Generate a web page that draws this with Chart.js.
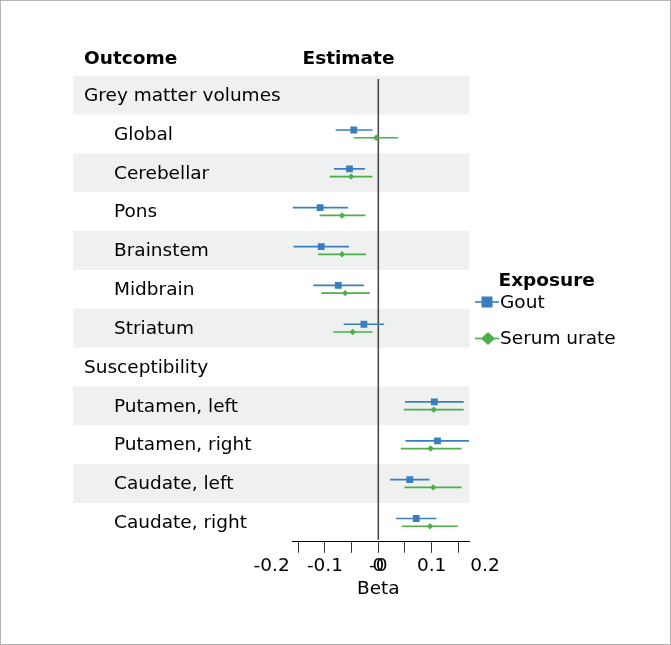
<!DOCTYPE html>
<html>
<head>
<meta charset="utf-8">
<script src="https://cdn.jsdelivr.net/npm/chart.js@4/dist/chart.umd.min.js"></script>
<style>
  html, body { margin: 0; padding: 0; background: #ffffff; }
  canvas { display: block; }
</style>
</head>
<body>
<canvas id="c" width="671" height="645"></canvas>
<script>
// ---- Data ----
const categories = ["Grey matter volumes", "Global", "Cerebellar", "Pons", "Brainstem", "Midbrain", "Striatum",
                    "Susceptibility", "Putamen, left", "Putamen, right", "Caudate, left", "Caudate, right"];
const isHeader = [true, false, false, false, false, false, false, true, false, false, false, false];

const goutEst = [null, -0.046, -0.054, -0.109, -0.107, -0.075, -0.027, null, 0.105, 0.111, 0.059, 0.071];
const goutLo  = [null, -0.080, -0.083, -0.161, -0.159, -0.122, -0.065, null, 0.050, 0.051, 0.022, 0.033];
const goutHi  = [null, -0.011, -0.025, -0.057, -0.055, -0.027,  0.011, null, 0.160, 0.170, 0.096, 0.109];

const urateEst = [null, -0.004, -0.051, -0.068, -0.068, -0.062, -0.048, null, 0.104, 0.098, 0.103, 0.097];
const urateLo  = [null, -0.046, -0.091, -0.110, -0.113, -0.107, -0.085, null, 0.048, 0.042, 0.049, 0.044];
const urateHi  = [null,  0.037, -0.011, -0.024, -0.023, -0.016, -0.011, null, 0.160, 0.156, 0.156, 0.149];

const xTickMarks = [-0.15, -0.1, -0.05, 0, 0.05, 0.1, 0.15];
const xTickLabelValues = [-0.2, -0.1, 0, 0, 0.1, 0.2];
const xTickLabelTexts = ["-0.2", "-0.1", "-0", "0", "0.1", "0.2"];
const xAxisTitle = "Beta";
const seriesNames = ["Gout", "Serum urate"];
const legendTitle = "Exposure";
const headerLabels = ["Outcome", "Estimate"];

// ---- Styles ----
const BLUE = "#3a7ebf";
const GREEN = "#4daf4a";
const FONT = "DejaVu Sans";
const FS = 18.5;
const OFFSET = 0.1;

function ciData(lo, hi, off) {
  const out = [];
  for (let i = 0; i < categories.length; i++) {
    if (lo[i] !== null) out.push({ x: [lo[i], hi[i]], y: i + off });
  }
  return out;
}
function ptData(est, off) {
  const out = [];
  for (let i = 0; i < categories.length; i++) {
    if (est[i] !== null) out.push({ x: est[i], y: i + off });
  }
  return out;
}

const decor = {
  id: 'decor',
  beforeDatasetsDraw(chart) {
    const { ctx, chartArea, scales: { y } } = chart;
    ctx.save();
    ctx.fillStyle = "#eef1ef";
    for (let i = 0; i < categories.length; i += 2) {
      const a = y.getPixelForValue(i - 0.5), b = y.getPixelForValue(i + 0.5);
      const top = Math.min(a, b), h = Math.abs(b - a);
      ctx.fillRect(73, top, chartArea.right - 73, h);
    }
    ctx.restore();
  },
  afterDraw(chart) {
    const { ctx, scales: { x, y } } = chart;
    ctx.save();
    ctx.fillStyle = "#000";
    ctx.textBaseline = "middle";
    // row labels
    ctx.font = `${FS}px "${FONT}"`;
    ctx.textAlign = "left";
    categories.forEach((c, i) => {
      ctx.fillText(c, isHeader[i] ? 84 : 114, y.getPixelForValue(i) + 1);
    });
    // column headers
    ctx.font = `bold ${FS}px "${FONT}"`;
    ctx.fillText(headerLabels[0], 84, 59);
    ctx.fillText(headerLabels[1], 302.5, 59);
    // x tick labels
    ctx.font = `${FS}px "${FONT}"`;
    ctx.textAlign = "center";
    xTickLabelValues.forEach((v, i) => {
      ctx.fillText(xTickLabelTexts[i], x.getPixelForValue(v), 566);
    });
    ctx.fillText(xAxisTitle, x.getPixelForValue(0), 589);
    // legend
    ctx.textAlign = "left";
    ctx.font = `bold ${FS}px "${FONT}"`;
    ctx.fillText(legendTitle, 498.5, 281);
    ctx.font = `${FS}px "${FONT}"`;
    ctx.fillText(seriesNames[0], 500, 303);
    ctx.fillText(seriesNames[1], 500, 339);
    // legend keys
    ctx.lineWidth = 1.6;
    ctx.strokeStyle = BLUE;
    ctx.beginPath(); ctx.moveTo(475, 302); ctx.lineTo(499, 302); ctx.stroke();
    ctx.fillStyle = BLUE;
    ctx.fillRect(481.5, 296.5, 11, 11);
    ctx.strokeStyle = GREEN;
    ctx.beginPath(); ctx.moveTo(475, 338.5); ctx.lineTo(499, 338.5); ctx.stroke();
    ctx.fillStyle = GREEN;
    ctx.beginPath();
    ctx.moveTo(481, 338.5); ctx.lineTo(488, 332); ctx.lineTo(495, 338.5); ctx.lineTo(488, 345);
    ctx.closePath(); ctx.fill();
    // frame
    ctx.strokeStyle = "#b4b4b4";
    ctx.lineWidth = 1;
    ctx.strokeRect(0.5, 0.5, 670, 644);
    ctx.restore();
  }
};

Chart.defaults.font.family = FONT;
Chart.defaults.font.size = FS;
Chart.defaults.color = "#000";

new Chart(document.getElementById("c"), {
  type: "scatter",
  data: {
    datasets: [
      { type: "scatter", label: seriesNames[0], data: ptData(goutEst, -OFFSET), pointStyle: "rect",
        pointRadius: 4.8, pointBackgroundColor: BLUE, pointBorderWidth: 0, order: 1 },
      { type: "scatter", label: seriesNames[1], data: ptData(urateEst, OFFSET), pointStyle: "rectRot",
        pointRadius: 3.2, pointBackgroundColor: GREEN, pointBorderWidth: 0, order: 1 },
      { type: "bar", indexAxis: "y", grouped: false, label: seriesNames[0] + " CI", data: ciData(goutLo, goutHi, -OFFSET),
        backgroundColor: BLUE, borderWidth: 0, maxBarThickness: 1.7, order: 5 },
      { type: "bar", indexAxis: "y", grouped: false, label: seriesNames[1] + " CI", data: ciData(urateLo, urateHi, OFFSET),
        backgroundColor: GREEN, borderWidth: 0, maxBarThickness: 1.7, order: 5 },
      { type: "line", label: "zero", data: [{ x: 0, y: -0.41 }, { x: 0, y: 11.45 }],
        borderColor: "#4a4a4a", borderWidth: 1.6, pointRadius: 0, order: 10 }
    ]
  },
  options: {
    responsive: false,
    animation: false,
    events: [],
    layout: { padding: { left: 292.7, right: 201.7, top: 75.6, bottom: 92.2 } },
    plugins: { legend: { display: false }, tooltip: { enabled: false } },
    scales: {
      x: {
        type: "linear", position: "bottom", min: -0.1605, max: 0.1706, offset: false,
        border: { display: true, color: "#000", width: 1 },
        grid: { drawOnChartArea: false, drawTicks: true, tickLength: 11, color: "#333", lineWidth: 1, offset: false },
        ticks: { display: false },
        afterBuildTicks: (s) => { s.ticks = xTickMarks.map(v => ({ value: v })); }
      },
      y: {
        type: "linear", display: false, min: -0.5, max: 11.5, reverse: true, offset: false,
        grid: { offset: false }
      }
    }
  },
  plugins: [decor]
});
</script>
</body>
</html>
